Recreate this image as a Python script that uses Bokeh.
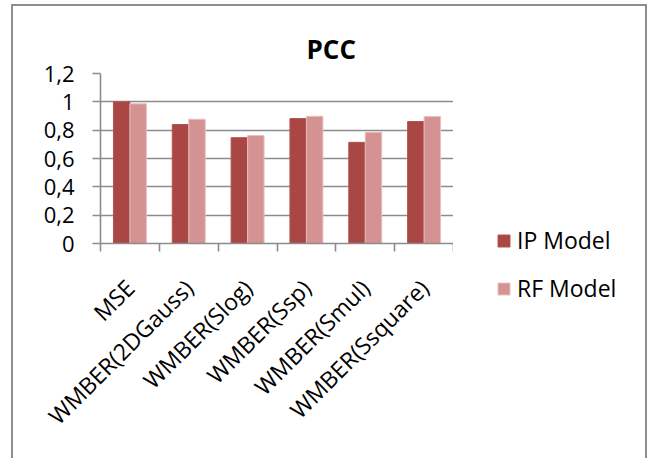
import numpy as np
from bokeh.plotting import figure
from bokeh.layouts import row
from bokeh.models import (Range1d, FixedTicker, Legend, LegendItem, ColumnDataSource)
from bokeh.transform import dodge
from bokeh.embed import file_html
from bokeh.resources import INLINE

categories = ["MSE", "WMBER(2DGauss)", "WMBER(Slog)", "WMBER(Ssp)", "WMBER(Smul)", "WMBER(Ssquare)"]
ip_model = [1.0, 0.84, 0.747, 0.882, 0.714, 0.861]
rf_model = [0.986, 0.877, 0.762, 0.898, 0.785, 0.896]
y_ticks = [0.0, 0.2, 0.4, 0.6, 0.8, 1.0, 1.2]
y_tick_labels = ["0", "0,2", "0,4", "0,6", "0,8", "1", "1,2"]
series_names = ["IP Model", "RF Model"]
series_colors = ["#AA4643", "#D49392"]
series_edges = ["#B05451", "#E6BFBE"]

FONT = "Open Sans"
GRID = "#8c8c8c"
BORDER = "#8e8e8e"

centers = np.arange(len(categories)) + 0.5
source = ColumnDataSource(dict(x=centers, ip=ip_model, rf=rf_model))

MAIN_W = 453
LEG_W = 656 - MAIN_W

p = figure(width=MAIN_W, height=458, output_backend="svg", toolbar_location=None,
           x_range=Range1d(0, len(categories)), y_range=Range1d(0, 1.2),
           min_border_left=100, min_border_right=0, min_border_top=73,
           min_border_bottom=215)
p.frame_align = False
p.outline_line_color = None
p.background_fill_color = "white"
p.border_fill_color = None
p.styles = {
    "background": (
        f"linear-gradient({BORDER},{BORDER}) 11px 4px / 2px 100% no-repeat, "
        f"linear-gradient({BORDER},{BORDER}) 11px 4px / 100% 2px no-repeat, "
        "white"
    )
}

r1 = p.vbar(x=dodge("x", -0.14, range=p.x_range), top="ip", width=0.28, source=source,
            fill_color=series_colors[0], line_color=series_edges[0], line_width=1)
r2 = p.vbar(x=dodge("x", 0.14, range=p.x_range), top="rf", width=0.28, source=source,
            fill_color=series_colors[1], line_color=series_edges[1], line_width=1)

# title
p.title.text = "PCC"
p.title.text_font = FONT
p.title.text_font_style = "bold"
p.title.text_font_size = "26px"
p.title.text_color = "black"
p.title.align = "left"
p.title.offset = 206
p.title.standoff = 14

# y axis
yax = p.yaxis[0]
yax.ticker = FixedTicker(ticks=y_ticks)
yax.major_label_overrides = {t: l for t, l in zip(y_ticks, y_tick_labels)}
yax.major_label_text_font = FONT
yax.major_label_text_font_size = "22px"
yax.major_label_text_color = "black"
yax.axis_line_color = GRID
yax.axis_line_width = 1.6
yax.major_tick_line_color = GRID
yax.major_tick_line_width = 1.6
yax.major_tick_out = 8
yax.major_tick_in = 0
yax.minor_tick_line_color = None
yax.major_label_standoff = 18

# x axis
xax = p.xaxis[0]
xax.ticker = FixedTicker(ticks=list(centers), minor_ticks=list(range(len(categories) + 1)))
xax.major_label_overrides = {float(c): n for c, n in zip(centers, categories)}
xax.major_label_orientation = np.pi / 4
xax.major_label_text_font = FONT
xax.major_label_text_font_size = "23px"
xax.major_label_text_color = "black"
xax.axis_line_color = GRID
xax.axis_line_width = 1.6
xax.major_tick_line_color = None
xax.major_tick_out = 0
xax.major_tick_in = 0
xax.minor_tick_line_color = GRID
xax.minor_tick_line_width = 1.6
xax.minor_tick_out = 8
xax.minor_tick_in = 0
xax.major_label_standoff = 32

p.xgrid.grid_line_color = None
p.ygrid.grid_line_color = GRID
p.ygrid.grid_line_width = 1.6

# legend panel (separate figure to the right of the plot area)
q = figure(width=LEG_W, height=458, output_backend="svg", toolbar_location=None,
           x_axis_type=None, y_axis_type=None, min_border=0,
           x_range=Range1d(0, len(categories)), y_range=Range1d(5, 6))
q.frame_align = False
q.outline_line_color = None
q.background_fill_color = None
q.border_fill_color = None
q.xgrid.grid_line_color = None
q.ygrid.grid_line_color = None
q.styles = {
    "background": (
        f"linear-gradient({BORDER},{BORDER}) {645 - MAIN_W}px 4px / 2px 100% no-repeat, "
        f"linear-gradient({BORDER},{BORDER}) 0px 4px / {647 - MAIN_W}px 2px no-repeat, "
        "white"
    )
}
# same series drawn below this panel's visible y-range: only their legend swatches show
d1 = q.vbar(x="x", top="ip", width=0.28, source=source,
            fill_color=series_colors[0], line_color=series_edges[0])
d2 = q.vbar(x="x", top="rf", width=0.28, source=source,
            fill_color=series_colors[1], line_color=series_edges[1])

legend = Legend(items=[LegendItem(label=series_names[0], renderers=[d1]),
                       LegendItem(label=series_names[1], renderers=[d2])],
                location=(43, 154), padding=0, margin=0, spacing=16,
                glyph_width=15, glyph_height=15, label_standoff=6,
                label_text_font=FONT, label_text_font_size="23px",
                label_text_color="black", border_line_color=None,
                background_fill_alpha=0)
q.add_layout(legend, "center")

layout = row(p, q, spacing=0)
open("out.html", "w").write(file_html(layout, INLINE))
